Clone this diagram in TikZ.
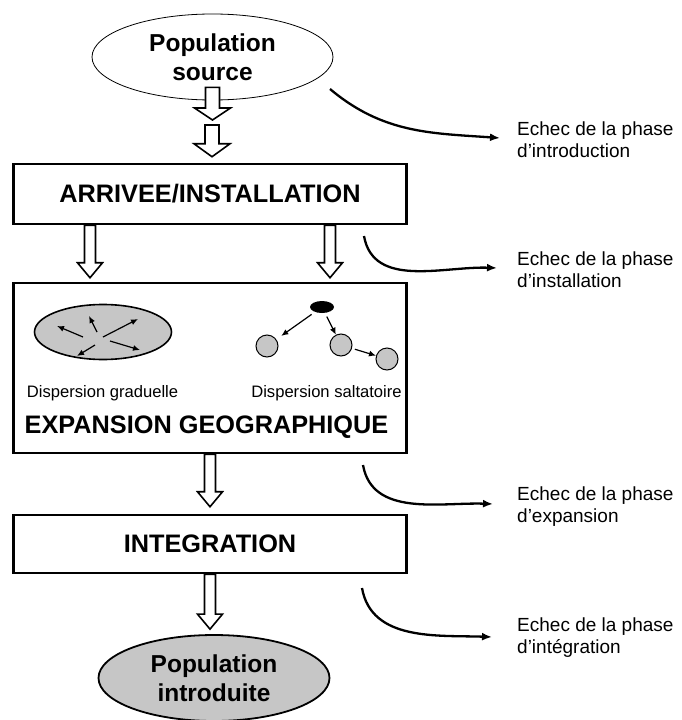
\documentclass[tikz,border=0pt]{standalone}
\usepackage{fontspec}
\setmainfont{Liberation Sans}
\usetikzlibrary{arrows.meta,shapes.geometric,calc}

\begin{document}
\begin{tikzpicture}[
    x=1pt,
    y=1pt,
    stage/.style={
        rectangle,
        draw,
        line width=2.5pt,
        minimum width=393pt,
        font=\fontsize{25.3}{30}\selectfont\bfseries
    },
    popu/.style={
        ellipse,
        draw,
        align=center,
        minimum width=241pt,
        minimum height=86pt,
        font=\fontsize{24.5}{29.5}\selectfont\bfseries
    },
    failure/.style={
        align=left,
        anchor=base west,
        inner sep=0pt,
        font=\fontsize{19}{22}\selectfont
    },
    caption/.style={
        anchor=base,
        inner sep=0pt,
        font=\fontsize{16.6}{20}\selectfont
    },
    site/.style={
        circle,
        draw,
        line width=1pt,
        fill=gray!45,
        minimum size=22pt,
        inner sep=0pt
    },
    fedge/.style={
        -{Latex[length=10pt,width=8pt]},
        line width=2.3pt
    },
    dedge/.style={
        -{Latex[length=7pt,width=6pt]},
        line width=1.2pt
    },
    hollow/.style n args={3}{
        draw,
        fill=white,
        line width=1.6pt,
        to path={
            let \p1=(\tikztostart), \p2=(\tikztotarget) in
            (\x1-#1,\y1) -- (\x1-#1,\y2+#3) -- (\x1-#2,\y2+#3) -- (\x1,\y2)
            -- (\x1+#2,\y2+#3) -- (\x1+#1,\y2+#3) -- (\x1+#1,\y1) -- cycle
        }
    }
]

\useasboundingbox (0,0) rectangle (681,-720);

% main stages
\node[popu, line width=0.8pt] (src) at (212.5,-57) {Population\\source};
\coordinate (relay) at (212,-122.5);
\node[stage, minimum height=60pt] (arrivee) at (210,-194) {ARRIVEE/INSTALLATION};
\node[stage, minimum height=170pt] (expansion) at (210,-368) {};
\node[stage, minimum height=58pt] (integration) at (210,-544) {INTEGRATION};
\node[popu, fill=gray!45, line width=1.8pt, minimum width=231pt] (dst) at (214,-678) {Population\\introduite};

% inside the expansion box
\node[ellipse, draw, line width=1.6pt, fill=gray!45, minimum width=137pt, minimum height=55pt] (grad) at (103,-332) {};
\node[ellipse, fill=black, minimum width=24pt, minimum height=12pt, inner sep=0pt] (jump) at (322,-307) {};
\node[site] (c1) at (267,-346) {};
\node[site] (c2) at (341,-345) {};
\node[site] (c3) at (387,-359) {};
\node[caption] (gradtxt) at (102.5,-397) {Dispersion graduelle};
\node[caption] (jumptxt) at (326.5,-397) {Dispersion saltatoire};
\node[anchor=base, inner sep=0pt, font=\fontsize{25.3}{30}\selectfont\bfseries] (exptxt) at (206.5,-433) {EXPANSION GEOGRAPHIQUE};

% failures (base = last line)
\node[failure] (e1) at (517,-157) {Echec de la phase\\d’introduction};
\node[failure] (e2) at (517,-287) {Echec de la phase\\d’installation};
\node[failure] (e3) at (517,-522) {Echec de la phase\\d’expansion};
\node[failure] (e4) at (517,-653) {Echec de la phase\\d’intégration};
\coordinate (f1) at (330,-89);
\coordinate (f2) at (364,-236);
\coordinate (f3) at (363,-465);
\coordinate (f4) at (362,-588);

% hollow arrows
\path[hollow={7pt}{18pt}{12pt}] ([yshift=13pt]src.south) to ([yshift=2.5pt]relay);
\path[hollow={7pt}{18pt}{13pt}] ([yshift=-2.5pt]relay) to ([yshift=6pt]arrivee.north);
\path[hollow={5.5pt}{12.5pt}{15pt}] ([xshift=-120pt]arrivee.south) to ([xshift=-120pt,yshift=4pt]expansion.north);
\path[hollow={5.5pt}{12.5pt}{15pt}] ([xshift=120pt]arrivee.south) to ([xshift=120pt,yshift=4pt]expansion.north);
\path[hollow={5.5pt}{12.5pt}{15pt}] (expansion.south) to ([yshift=7pt]integration.north);
\path[hollow={5.5pt}{12.5pt}{15pt}] (integration.south) to ([yshift=5pt]dst.north);

% gradual spread
\draw[dedge] ([shift={(-20,-5)}]grad.center) -- ([shift={(-46,6)}]grad.center);
\draw[dedge] ([shift={(-6,0)}]grad.center) -- ([shift={(-14,16)}]grad.center);
\draw[dedge] ([shift={(0,-5)}]grad.center) -- ([shift={(35,13)}]grad.center);
\draw[dedge] ([shift={(7,-9)}]grad.center) -- ([shift={(37,-18)}]grad.center);
\draw[dedge] ([shift={(-8,-13)}]grad.center) -- ([shift={(-26,-24)}]grad.center);

% jump spread
\draw[dedge, shorten <=4pt, shorten >=6pt] (jump) -- (c1);
\draw[dedge, shorten <=4pt] (jump) -- (c2);
\draw[dedge, shorten <=3pt] (c2) -- (c3);

% failure arrows
\draw[fedge] (f1) to[out=-40,in=176] ([xshift=-17pt,yshift=19pt]e1.base west);
\draw[fedge] (f2) to[out=-80,in=178] ([xshift=-20pt,yshift=19pt]e2.base west);
\draw[fedge] (f3) to[out=-80,in=178] ([xshift=-24pt,yshift=18pt]e3.base west);
\draw[fedge] (f4) to[out=-80,in=178] ([xshift=-25pt,yshift=16pt]e4.base west);

\end{tikzpicture}
\end{document}
